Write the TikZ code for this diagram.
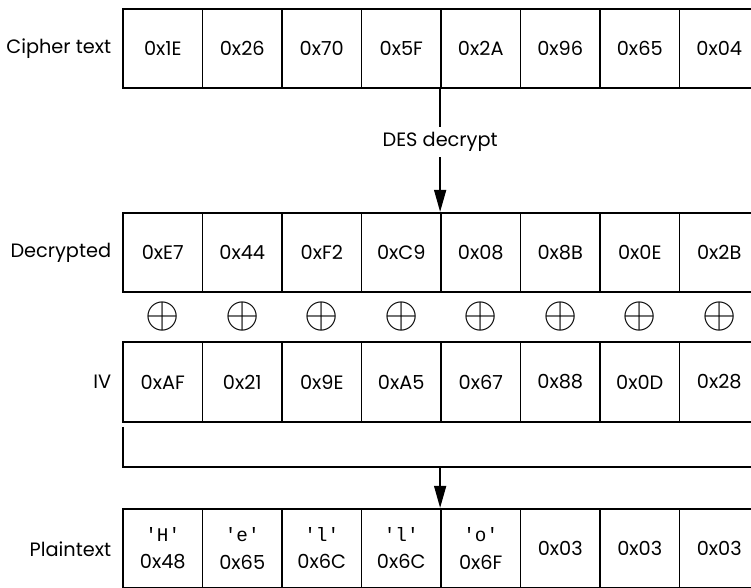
\documentclass[tikz,border=0pt]{standalone}
\usepackage{fontspec}
\setmainfont{Poppins}
\newfontfamily\codefont{Liberation Mono}
\usepackage{tikz}
\usetikzlibrary{
arrows.meta,
positioning,
calc
}
\newcommand{\ptchar}[1]{{\codefont\textquotesingle#1\textquotesingle}}

\begin{document}
\begin{tikzpicture}[
  >={Triangle[length=12.5pt, width=6.8pt]},
  cell/.style={
    draw, line width=1pt,
    minimum width=1.59cm, minimum height=1.59cm,
    align=center, inner sep=0pt,
    font=\fontsize{11}{15.4}\selectfont
  },
  rowlabel/.style={
    inner sep=0pt, anchor=east,
    font=\fontsize{11}{15.4}\selectfont
  },
  xorsym/.style={inner sep=0pt},
  flow/.style={line width=1pt}
]
\useasboundingbox (0,0) rectangle (15.02,11.76);
\clip (0,0) rectangle (15.02,11.76);

%% ============================================================
%%  CIPHER TEXT ROW
%% ============================================================
\foreach \v [count=\i] in {1E,26,70,5F,2A,96,65,04}
  \node[cell] (ct\i) at ({3.255+1.59*(\i-1)}, 10.79) {0x\v};
\node[rowlabel] (lblct) at (2.23, 10.79) {Cipher text};

%% ============================================================
%%  DECRYPTED ROW
%% ============================================================
\foreach \v [count=\i] in {E7,44,F2,C9,08,8B,0E,2B}
  \node[cell] (dec\i) at ({3.255+1.59*(\i-1)}, 6.71) {0x\v};
\node[rowlabel] (lbldec) at (2.23, 6.71) {Decrypted};

%% Arrow: cipher -> decrypted
\draw[->, flow]
  (ct5.south west) -- node[pos=0.43, fill=white, inner sep=3pt,
    font=\fontsize{11}{15.4}\selectfont] (des) {DES decrypt}
  (dec5.north west);

%% XOR symbols
\foreach \i in {1,...,8}
  \node[xorsym] (xor\i) at ({3.255+1.59*(\i-1)}, 5.42)
    {\scalebox{2.5}{$\oplus$}};

%% ============================================================
%%  IV ROW
%% ============================================================
\foreach \v [count=\i] in {AF,21,9E,A5,67,88,0D,28}
  \node[cell] (iv\i) at ({3.255+1.59*(\i-1)}, 4.12) {0x\v};
\node[rowlabel] (lbliv) at (2.23, 4.12) {IV};

%% Bracket and arrow: IV -> plaintext
\coordinate (brkTop) at (2.46, 3.22);
\coordinate (brkCorner) at (2.46, 2.42);
\draw[flow] (brkTop) -- (brkCorner) -- (brkCorner -| iv8.east);

%% ============================================================
%%  PLAINTEXT ROW
%% ============================================================
\foreach \v [count=\i] in {
    {\ptchar{H}\\0x48}, {\ptchar{e}\\0x65}, {\ptchar{l}\\0x6C},
    {\ptchar{l}\\0x6C}, {\ptchar{o}\\0x6F}, 0x03, 0x03, 0x03}
  \node[cell] (pt\i) at ({3.255+1.59*(\i-1)}, 0.79) {\v};
\node[rowlabel] (lblpt) at (2.23, 0.77) {Plaintext};

\draw[->, flow] (brkCorner -| pt5.west) -- (pt5.north west);

\end{tikzpicture}
\end{document}
